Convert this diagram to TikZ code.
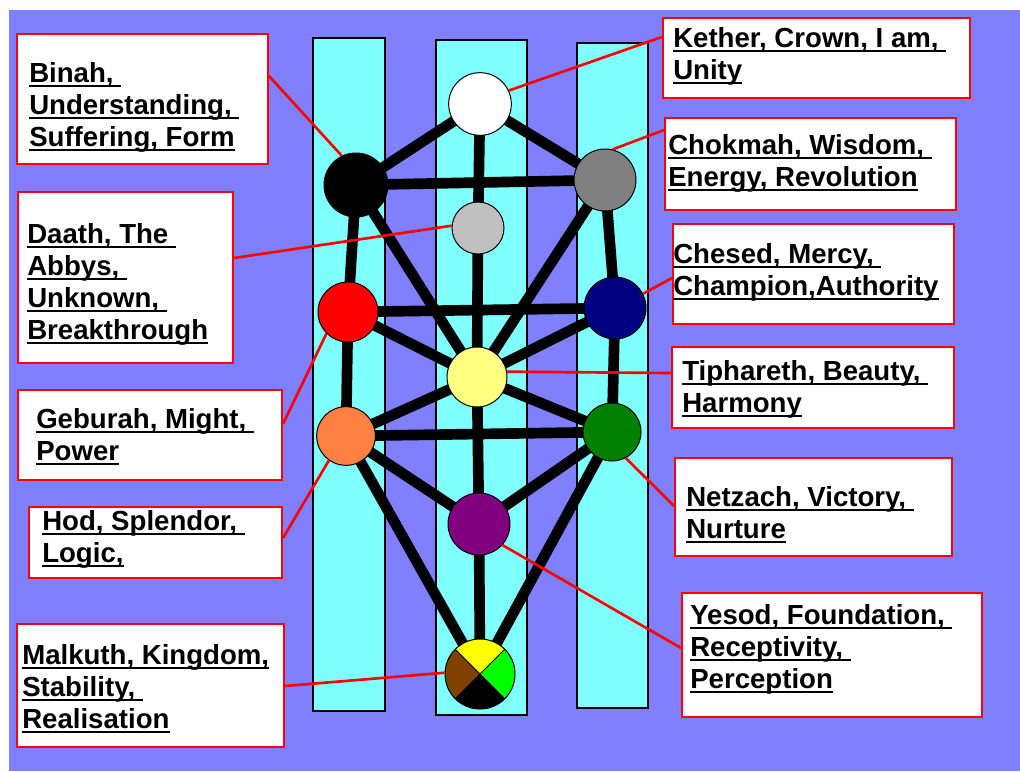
\documentclass[tikz,border=0pt]{standalone}
\usepackage{fontspec}
\setmainfont{Liberation Sans}
\definecolor{bgblue}{HTML}{8080FF}
\definecolor{pillarc}{HTML}{80FFFF}
\definecolor{sgray}{HTML}{808080}
\definecolor{ssilver}{HTML}{C0C0C0}
\definecolor{snavy}{HTML}{000080}
\definecolor{slyellow}{HTML}{FFFF80}
\definecolor{sorange}{HTML}{FF8040}
\definecolor{sgreen}{HTML}{008000}
\definecolor{spurple}{HTML}{800080}
\definecolor{myellow}{HTML}{FFFF00}
\definecolor{mgreen}{HTML}{00FF00}
\definecolor{mbrown}{HTML}{804000}
\definecolor{lred}{HTML}{FF0000}
\newcommand\ulx[1]{\setbox0=\hbox{#1}\rlap{\rule[-3.4pt]{\wd0}{1.5pt}}\box0}
\newcommand\fst{\rule{0pt}{16pt}}
\pgfdeclarelayer{back}
\pgfdeclarelayer{mid}
\pgfsetlayers{back,mid,main}
\tikzset{
  sephira/.style={circle, draw=black, line width=0.75pt, inner sep=0pt},
  lineedge/.style={line width=8pt, black},
  labelbox/.style={draw=lred, line width=1.5pt, fill=white, anchor=north west, inner sep=0pt},
  labeltext/.style={anchor=north west, inner sep=0pt, align=left, font=\bfseries\fontsize{20.7}{24}\selectfont},
  leader/.style={draw=lred, line width=2pt},
  pillarbox/.style={fill=pillarc, draw=black, line width=0.8pt}
}
\begin{document}
\begin{tikzpicture}[x=0.75pt,y=-0.75pt]
\useasboundingbox (0,0) rectangle (1020,771);
\begin{pgfonlayer}{back}
  \fill[white] (0,0) rectangle (1020,771);
  \fill[bgblue] (9,10) rectangle (1020,771);
  \filldraw[pillarbox] (313,38) rectangle (385,711);
  \filldraw[pillarbox] (436,40) rectangle (527,715);
  \filldraw[pillarbox] (577,43) rectangle (648,708);
\end{pgfonlayer}

% Sephiroth
\node[sephira, fill=white, minimum size=47pt] (kether) at (480,104) {};
\node[sephira, fill=black, minimum size=48pt] (binah) at (356,185) {};
\node[sephira, fill=sgray, minimum size=46.5pt] (chokmah) at (605,180) {};
\node[sephira, fill=ssilver, minimum size=39pt] (daath) at (478,228) {};
\node[sephira, fill=lred, minimum size=45pt] (geburah) at (348,312) {};
\node[sephira, fill=snavy, minimum size=46.5pt] (chesed) at (615,308) {};
\node[sephira, fill=slyellow, minimum size=45pt] (tiphareth) at (477,377) {};
\node[sephira, fill=sorange, minimum size=44pt] (hod) at (346,436) {};
\node[sephira, fill=sgreen, minimum size=43.5pt] (netzach) at (612,432) {};
\node[sephira, fill=spurple, minimum size=46.5pt] (yesod) at (479,524) {};
\node[sephira, minimum size=52.5pt, path picture={
   \coordinate (pc) at (path picture bounding box.center);
   \fill[myellow] (pc) -- ([shift={(45:40pt)}]pc) -- ([shift={(135:40pt)}]pc) -- cycle;
   \fill[mbrown] (pc) -- ([shift={(135:40pt)}]pc) -- ([shift={(225:40pt)}]pc) -- cycle;
   \fill[black] (pc) -- ([shift={(225:40pt)}]pc) -- ([shift={(315:40pt)}]pc) -- cycle;
   \fill[mgreen] (pc) -- ([shift={(315:40pt)}]pc) -- ([shift={(45:40pt)}]pc) -- cycle;
   \draw[line width=0.75pt] ([shift={(45:40pt)}]pc) -- ([shift={(225:40pt)}]pc);
   \draw[line width=0.75pt] ([shift={(135:40pt)}]pc) -- ([shift={(315:40pt)}]pc);
 }] (malkuth) at (480,674) {};

% Paths
\begin{pgfonlayer}{mid}
  \draw[lineedge] (kether.center) -- (binah.center);
  \draw[lineedge] (kether.center) -- (chokmah.center);
  \draw[lineedge] (kether.center) -- (daath.center);
  \draw[lineedge] (binah.center) -- (chokmah.center);
  \draw[lineedge] (binah.center) -- (geburah.center);
  \draw[lineedge] (chokmah.center) -- (chesed.center);
  \draw[lineedge] (binah.center) -- (tiphareth.center);
  \draw[lineedge] (chokmah.center) -- (tiphareth.center);
  \draw[lineedge] (daath.center) -- (tiphareth.center);
  \draw[lineedge] (geburah.center) -- (chesed.center);
  \draw[lineedge] (geburah.center) -- (tiphareth.center);
  \draw[lineedge] (chesed.center) -- (tiphareth.center);
  \draw[lineedge] (geburah.center) -- (hod.center);
  \draw[lineedge] (chesed.center) -- (netzach.center);
  \draw[lineedge] (hod.center) -- (tiphareth.center);
  \draw[lineedge] (netzach.center) -- (tiphareth.center);
  \draw[lineedge] (hod.center) -- (netzach.center);
  \draw[lineedge] (tiphareth.center) -- (yesod.center);
  \draw[lineedge] (hod.center) -- (yesod.center);
  \draw[lineedge] (netzach.center) -- (yesod.center);
  \draw[lineedge] (hod.center) -- (malkuth.center);
  \draw[lineedge] (netzach.center) -- (malkuth.center);
  \draw[lineedge] (yesod.center) -- (malkuth.center);
\end{pgfonlayer}

% Label boxes
\node[labelbox, minimum width=230.25pt, minimum height=60pt] (kethL) at (662,17) {};
\node[labeltext] at (673,25.7) {\fst\ulx{Kether, Crown, I am,\ }\\\ulx{Unity}};
\node[labelbox, minimum width=218.25pt, minimum height=69pt] (chokL) at (664,117) {};
\node[labeltext] at (668,132.7) {\fst\ulx{Chokmah, Wisdom,\ }\\\ulx{Energy, Revolution}};
\node[labelbox, minimum width=188.25pt, minimum height=97.5pt] (binahL) at (16,33) {};
\node[labeltext] at (29,60.7) {\fst\ulx{Binah,\ }\\\ulx{Understanding,\ }\\\ulx{Suffering, Form}};
\node[labelbox, minimum width=161.25pt, minimum height=128.25pt] (daathL) at (17,191) {};
\node[labeltext] at (27,221.7) {\fst\ulx{Daath, The\ }\\\ulx{Abbys,\ }\\\ulx{Unknown,\ }\\\ulx{Breakthrough}};
\node[labelbox, minimum width=210.75pt, minimum height=75pt] (chesL) at (672,223) {};
\node[labeltext] at (673,241.7) {\fst\ulx{Chesed, Mercy,\ }\\\ulx{Champion,Authority}};
\node[labelbox, minimum width=211.5pt, minimum height=60.75pt] (tiphL) at (671,346) {};
\node[labeltext] at (682,358.7) {\fst\ulx{Tiphareth, Beauty,\ }\\\ulx{Harmony}};
\node[labelbox, minimum width=198pt, minimum height=67.5pt] (gebL) at (17,389) {};
\node[labeltext] at (36,406.7) {\fst\ulx{Geburah, Might,\ }\\\ulx{Power}};
\node[labelbox, minimum width=207.75pt, minimum height=73.5pt] (netzL) at (674,457) {};
\node[labeltext] at (686,484.7) {\fst\ulx{Netzach, Victory,\ }\\\ulx{Nurture}};
\node[labelbox, minimum width=189.75pt, minimum height=53.25pt] (hodL) at (28,506) {};
\node[labeltext] at (42,508.7) {\fst\ulx{Hod, Splendor,\ }\\\ulx{Logic,}};
\node[labelbox, minimum width=225pt, minimum height=93pt] (yesL) at (681,592) {};
\node[labeltext] at (690,602.7) {\fst\ulx{Yesod, Foundation,\ }\\\ulx{Receptivity,\ }\\\ulx{Perception}};
\node[labelbox, minimum width=200.25pt, minimum height=92.25pt] (malkL) at (16,623) {};
\node[labeltext] at (22,642.7) {\fst\ulx{Malkuth, Kingdom,}\\\ulx{Stability,\ }\\\ulx{Realisation}};

% Leaders
\draw[leader] (kethL.north west) ++(0,20) -- (kether.25);
\draw[leader] (chokL.north west) ++(0,13) -- (chokmah.76);
\draw[leader] (binahL.north east) ++(0,43) -- (binah.116);
\draw[leader] (daathL.north east) ++(0,67) -- (daath.175);
\draw[leader] (chesL.north west) ++(0,55) -- (chesed.27);
\draw[leader] (tiphL.north west) ++(0,27) -- (tiphareth.10);
\draw[leader] (gebL.north east) ++(0,35) -- (geburah.225);
\draw[leader] (netzL.north west) ++(0,49) -- (netzach.298);
\draw[leader] (hodL.north east) ++(0,32) -- (hod.235);
\draw[leader] (yesL.north west) ++(0,56) -- (yesod.318);
\draw[leader] (malkL.north east) ++(0,63) -- (malkuth.178);
\end{tikzpicture}
\end{document}
